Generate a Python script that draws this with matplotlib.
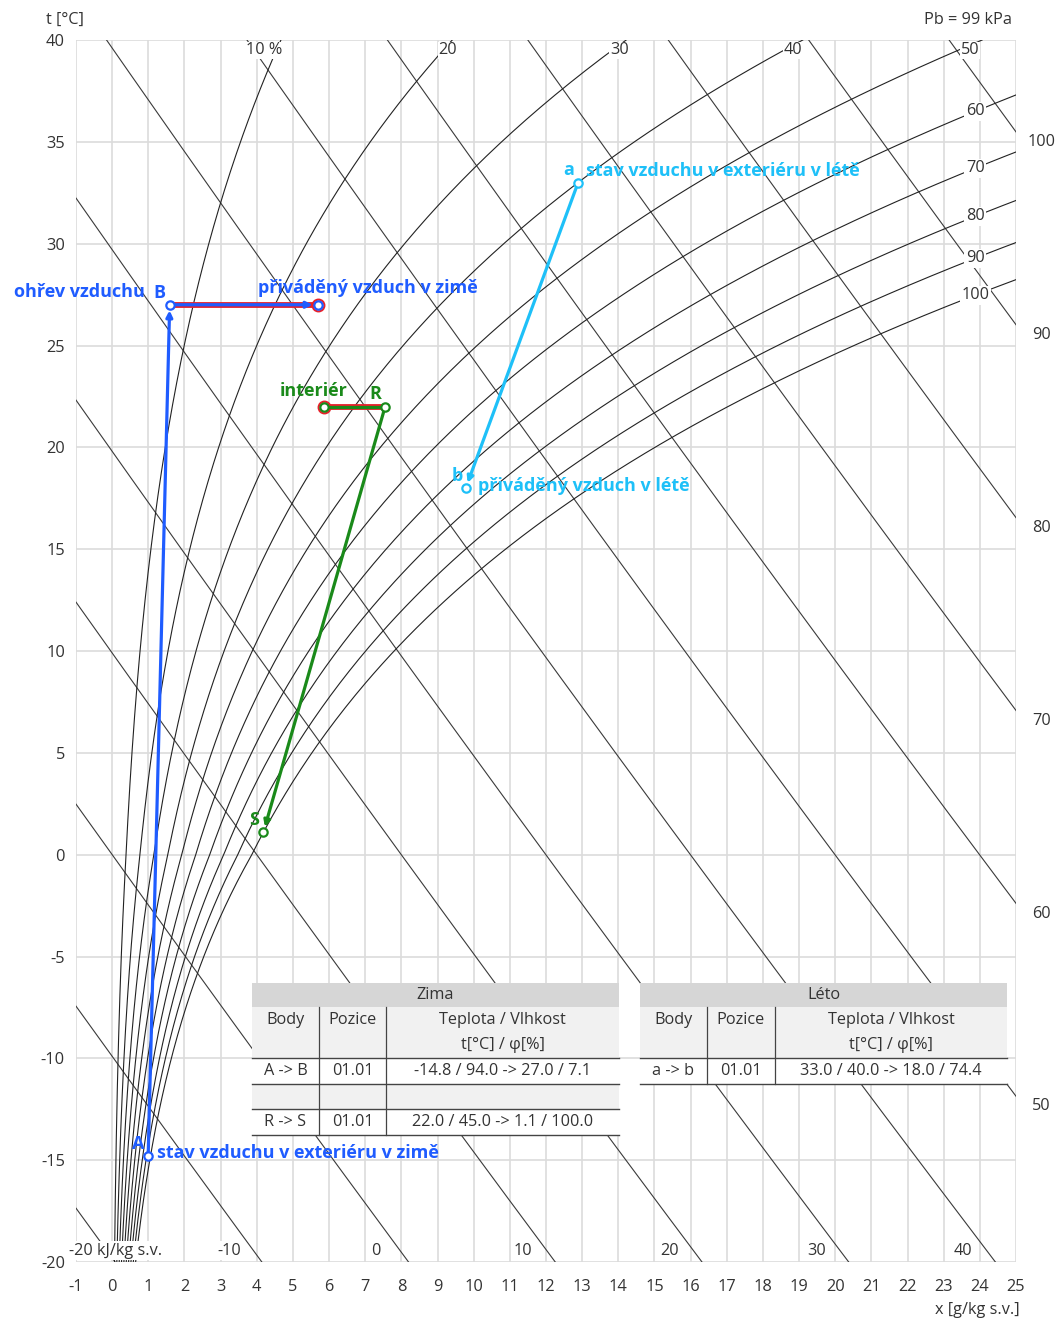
import numpy as np
import matplotlib.pyplot as plt

plt.rcParams['font.family'] = ['Open Sans', 'DejaVu Sans']
plt.rcParams['axes.unicode_minus'] = False

# barometric pressure kPa
P = 99.0

rh_levels = [10, 20, 30, 40, 50, 60, 70, 80, 90, 100]
h_levels = [-20, -10, 0, 10, 20, 30, 40, 50, 60, 70, 80, 90, 100]

# process points (t [C], phi [%])
pt_names = ['A', 'B', 'R', 'S', 'a', 'b']
pt_t = [-14.8, 27.0, 22.0, 1.1, 33.0, 18.0]
pt_phi = [94.0, 7.1, 45.0, 100.0, 40.0, 74.4]

# extra points given by (t, x)
supply_w_t, supply_w_x = 27.0, 5.7
interior_t, interior_x = 22.0, 5.85

zima_rows = [['A -> B', '01.01', '-14.8 / 94.0 -> 27.0 / 7.1'],
             ['', '', ''],
             ['R -> S', '01.01', '22.0 / 45.0 -> 1.1 / 100.0']]
leto_rows = [['a -> b', '01.01', '33.0 / 40.0 -> 18.0 / 74.4']]
col_heads = ['Body', 'Pozice', 'Teplota / Vlhkost\nt[°C] / φ[%]']

BLUE = '#1f5cff'
GREEN = '#1a8a1a'
LBLUE = '#1ec0f8'
RED = '#e8202a'
TXT = '#333333'
FS = 11.7


def psat(t):
    t = np.asarray(t, dtype=float)
    water = 0.61094 * np.exp(17.625 * t / (t + 243.04))
    ice = 0.61115 * np.exp(22.452 * t / (272.55 + t))
    return np.where(t >= 0, water, ice)


def x_of(t, phi):
    pw = phi / 100.0 * psat(t)
    return 622.0 * pw / (P - pw)


def t_of_h(h, x):
    return (h - 2.501 * x) / (1.01 + 0.00184 * x)


fig = plt.figure(figsize=(10.61, 13.21), dpi=100)
W, H = 1061, 1321
ax = fig.add_axes([76 / W, 1 - 1262 / H, 940 / W, 1222 / H])
ax.set_xlim(-1, 25)
ax.set_ylim(-20, 40)
for s in ax.spines.values():
    s.set_visible(False)
ax.set_xticks(range(-1, 26))
ax.set_yticks(range(-20, 41, 5))
ax.tick_params(length=0, labelsize=11.8, labelcolor=TXT, pad=8)
ax.tick_params(axis='x', pad=12)
ax.grid(True, color='#dcdcdc', lw=1.2, zorder=0)
ax.set_axisbelow(True)

# enthalpy lines
xs = np.linspace(-1, 26, 200)
for h in h_levels:
    ax.plot(xs, t_of_h(h, xs), color='#3a3a3a', lw=0.8, zorder=1)
    xb = (h + 20.2) / (2.501 - 0.0368)
    if h == -20:
        ax.text(xb, -19.45, '-20 kJ/kg s.v.', ha='center', va='center',
                fontsize=FS, color=TXT, zorder=3,
                bbox=dict(fc='white', ec='none', pad=1))
    elif xb < 25:
        ax.text(xb - 0.9, -19.45, str(h), ha='center', va='center',
                fontsize=FS, color=TXT, zorder=3,
                bbox=dict(fc='white', ec='none', pad=1))
    tr = t_of_h(h, 25)
    if -20 < tr < 40:
        ax.text(25.7, tr - 0.5, str(h), ha='center', va='center',
                fontsize=FS, color=TXT, clip_on=False)

# relative humidity curves
ts = np.linspace(-20, 40, 400)
for phi in rh_levels:
    ax.plot(x_of(ts, phi), ts, color='#222222', lw=0.8, zorder=1)
    if phi <= 50:
        xl = x_of(39.75, phi)
        lab = '10 %' if phi == 10 else str(phi)
        if phi == 10:
            xl -= 0.4
        ax.text(xl, 39.5, lab, ha='center', va='center', fontsize=FS,
                color=TXT, zorder=3,
                bbox=dict(fc='white', ec='none', pad=0.5))
    else:
        pw = 23.87 * P / (622 + 23.87)
        tt = np.linspace(0, 40, 4001)
        tl = tt[np.argmin(np.abs(psat(tt) * phi / 100 - pw))]
        ax.text(23.87, tl, str(phi), ha='center', va='center', fontsize=FS,
                color=TXT, zorder=3,
                bbox=dict(fc='white', ec='none', pad=1))

# process points
px = {n: float(x_of(t, p)) for n, t, p in zip(pt_names, pt_t, pt_phi)}
pt = {n: t for n, t in zip(pt_names, pt_t)}


def arrow(n1, n2, c):
    ax.annotate('', xy=(px[n2], pt[n2]), xytext=(px[n1], pt[n1]),
                arrowprops=dict(arrowstyle='-|>', color=c, lw=2.3,
                                mutation_scale=9, shrinkA=0, shrinkB=4),
                zorder=4)


def mark(x, t, c):
    ax.plot(x, t, 'o', ms=6, mfc='white', mec=c, mew=1.6, zorder=6)


def label(txt, x, t, dx, dy, c, ha='center'):
    ax.annotate(txt, (x, t), xytext=(dx, dy), textcoords='offset pixels',
                ha=ha, va='center', fontsize=13, fontweight='bold', color=c,
                zorder=7)


# winter heating A -> B, then B -> supply
arrow('A', 'B', BLUE)
ax.plot([px['B'], supply_w_x], [pt['B'], supply_w_t], color=RED, lw=4.2,
        solid_capstyle='round', zorder=4)
ax.plot(supply_w_x, supply_w_t, 'o', ms=8.5, mfc='none', mec=RED, mew=1.5, zorder=4)
px['W'] = supply_w_x
pt['W'] = supply_w_t
arrow('B', 'W', BLUE)
mark(px['A'], pt['A'], BLUE)
mark(px['B'], pt['B'], BLUE)
mark(supply_w_x, supply_w_t, BLUE)

# interior -> R, R -> S
ax.plot([interior_x, px['R']], [interior_t, pt['R']], color=RED, lw=4.2,
        solid_capstyle='round', zorder=4)
ax.plot(interior_x, interior_t, 'o', ms=8.5, mfc='none', mec=RED, mew=1.5, zorder=4)
ax.plot([interior_x, px['R']], [interior_t, pt['R']], color=GREEN, lw=2.3, zorder=5)
arrow('R', 'S', GREEN)
mark(interior_x, interior_t, GREEN)
mark(px['R'], pt['R'], GREEN)
mark(px['S'], pt['S'], GREEN)

# summer a -> b
arrow('a', 'b', LBLUE)
mark(px['a'], pt['a'], LBLUE)
mark(px['b'], pt['b'], LBLUE)

label('A', px['A'], pt['A'], -10, 12, BLUE)
label('stav vzduchu v exteriéru v zimě', px['A'], pt['A'], 9, 3, BLUE, 'left')
label('B', px['B'], pt['B'], -10, 12, BLUE)
label('ohřev vzduchu', px['B'], pt['B'], -25, 13, BLUE, 'right')
label('přiváděný vzduch v zimě', supply_w_x, supply_w_t, -60, 17, BLUE, 'left')
label('interiér', interior_x, interior_t, 24, 16, GREEN, 'right')
label('R', px['R'], pt['R'], -10, 13, GREEN)
label('S', px['S'], pt['S'], -9, 12, GREEN)
label('a', px['a'], pt['a'], -9, 13, LBLUE)
label('stav vzduchu v exteriéru v létě', px['a'], pt['a'], 8, 12, LBLUE, 'left')
label('b', px['b'], pt['b'], -8, 12, LBLUE)
label('přiváděný vzduch v létě', px['b'], pt['b'], 12, 2, LBLUE, 'left')

# overlay in pixel coordinates for texts and tables
ov = fig.add_axes([0, 0, 1, 1], zorder=5)
ov.set_xlim(0, W)
ov.set_ylim(H, 0)
ov.axis('off')
ov.patch.set_visible(False)

ov.text(65, 20, 't [°C]', ha='center', va='center', fontsize=FS, color=TXT)
ov.text(1012, 20, 'Pb = 99 kPa', ha='right', va='center', fontsize=FS, color=TXT)
ov.text(1020, 1310, 'x [g/kg s.v.]', ha='right', va='center', fontsize=FS, color=TXT)


def table(x0, x1, c1, c2, title, rows):
    y = 983
    ov.add_patch(plt.Rectangle((x0, y), x1 - x0, 24, fc='#d6d6d6', ec='none'))
    ov.text((x0 + x1) / 2, y + 12, title, ha='center', va='center',
            fontsize=FS, color=TXT)
    y = 1007
    ov.add_patch(plt.Rectangle((x0, y), x1 - x0, 51, fc='#f1f1f1', ec='none'))
    cx = [(x0 + c1) / 2, (c1 + c2) / 2, (c2 + x1) / 2]
    ov.text(cx[0], y + 13, col_heads[0], ha='center', va='center', fontsize=FS, color=TXT)
    ov.text(cx[1], y + 13, col_heads[1], ha='center', va='center', fontsize=FS, color=TXT)
    l1, l2 = col_heads[2].split('\n')
    ov.text(cx[2], y + 13, l1, ha='center', va='center', fontsize=FS, color=TXT)
    ov.text(cx[2], y + 38, l2, ha='center', va='center', fontsize=FS, color=TXT)
    y = 1058
    for i, r in enumerate(rows):
        fc = 'white' if i % 2 == 0 else '#f1f1f1'
        ov.add_patch(plt.Rectangle((x0, y), x1 - x0, 25.5, fc=fc, ec='none'))
        for c, s in zip(cx, r):
            ov.text(c, y + 13, s, ha='center', va='center', fontsize=FS, color=TXT)
        ov.plot([x0, x1], [y, y], color='#444444', lw=1)
        y += 25.5
    ov.plot([x0, x1], [y, y], color='#444444', lw=1)
    for c in (c1, c2):
        ov.plot([c, c], [1007, y], color='#444444', lw=0.9)


table(252, 619, 319, 386, 'Zima', zima_rows)
table(640, 1007, 707, 775, 'Léto', leto_rows)

fig.savefig('out.png', dpi=100)
